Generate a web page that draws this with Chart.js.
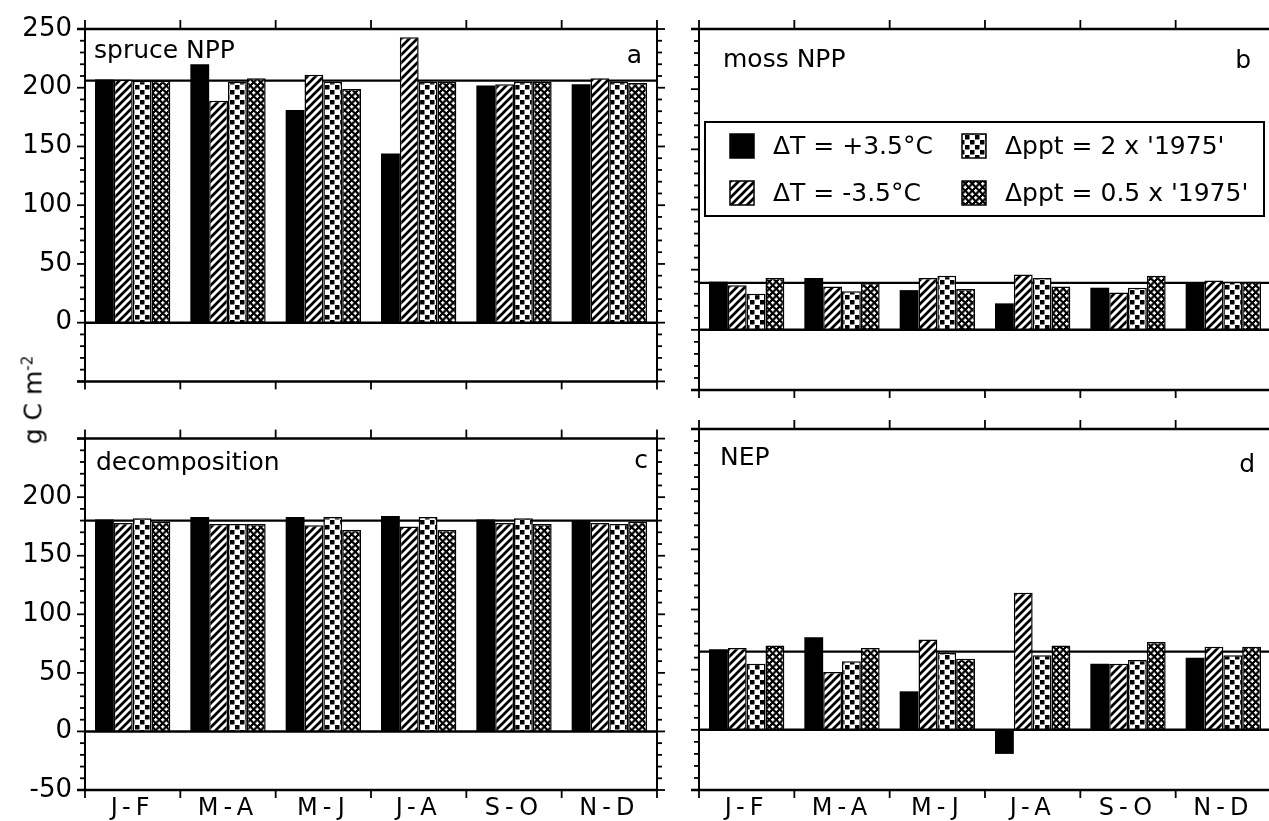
<!DOCTYPE html>
<html>
<head>
<meta charset="utf-8">
<script src="https://cdn.jsdelivr.net/npm/chart.js@4.4.0/dist/chart.umd.min.js"></script>
<style>
  html, body { margin: 0; padding: 0; background: #fff; overflow: hidden; }
  #wrap { position: relative; width: 1269px; height: 821px; overflow: hidden; }
  #wrap canvas { position: absolute; }
  #ytitle {
    position: absolute; left: 33px; top: 400px;
    transform: translate(-50%, -50%) rotate(-90deg);
    font: 25px "DejaVu Sans"; line-height: 1; white-space: nowrap; color: #000;
  }
  #ytitle sup { font-size: 15px; vertical-align: 9px; }
</style>
</head>
<body>
<div id="wrap">
  <canvas id="panelA" width="680" height="410" style="left:0;top:0;width:680px;height:410px"></canvas>
  <canvas id="panelB" width="600" height="410" style="left:680px;top:0;width:600px;height:410px"></canvas>
  <canvas id="panelC" width="680" height="411" style="left:0;top:410px;width:680px;height:411px"></canvas>
  <canvas id="panelD" width="600" height="411" style="left:680px;top:410px;width:600px;height:411px"></canvas>
  <div id="ytitle">g C m<sup>-2</sup></div>
</div>
<script>
// two-month periods
const periods = ['J-F', 'M-A', 'M-J', 'J-A', 'S-O', 'N-D'];
const scenarios = ['ΔT = +3.5°C', 'ΔT = -3.5°C', "Δppt = 2 x '1975'", "Δppt = 0.5 x '1975'"];

// y tick labels shown on the left panels
const yLabelsTop = [0, 50, 100, 150, 200, 250];
const yLabelsBottom = [-50, 0, 50, 100, 150, 200];

// a: spruce NPP
const spruceWarm = [207, 220, 181, 144, 202, 203];
const spruceCool = [207, 189, 211, 243, 203, 208];
const spruceWet = [206, 205, 205, 205, 205, 205];
const spruceDry = [206, 208, 199, 205, 205, 204];
const spruceControl = 206;

// b: moss NPP
const mossWarm = [40, 43, 33, 22, 35, 39];
const mossCool = [37, 36, 43, 46, 31, 41];
const mossWet = [30, 32, 45, 43, 35, 40];
const mossDry = [43, 39, 34, 36, 45, 40];
const mossControl = 39;

// c: decomposition
const decompWarm = [181, 183, 183, 184, 181, 180];
const decompCool = [178, 177, 176, 175, 178, 178];
const decompWet = [182, 177, 183, 183, 182, 177];
const decompDry = [179, 177, 172, 172, 177, 179];
const decompControl = 180;

// d: NEP
const nepWarm = [67, 77, 32, -20, 55, 60];
const nepCool = [68, 48, 75, 114, 55, 69];
const nepWet = [55, 57, 64, 62, 58, 62];
const nepDry = [70, 68, 59, 70, 73, 69];
const nepControl = 65;

const FONT = '"DejaVu Sans", Verdana, sans-serif';

function makePattern(kind) {
  const c = document.createElement('canvas');
  const g = c.getContext('2d');
  if (kind === 'hatch') {
    c.width = c.height = 8;
    g.fillStyle = '#fff'; g.fillRect(0, 0, 8, 8);
    g.strokeStyle = '#000'; g.lineWidth = 2.7;
    g.beginPath();
    g.moveTo(-1, 9); g.lineTo(9, -1);
    g.moveTo(-1, 1); g.lineTo(1, -1);
    g.moveTo(7, 9); g.lineTo(9, 7);
    g.stroke();
  } else if (kind === 'dots') {
    c.width = 10; c.height = 10;
    g.fillStyle = '#fff'; g.fillRect(0, 0, 10, 10);
    g.fillStyle = '#000';
    g.fillRect(0, 0, 4.5, 4.5);
    g.fillRect(5, 5, 4.5, 4.5);
  } else {
    c.width = c.height = 7;
    g.fillStyle = '#000'; g.fillRect(0, 0, 7, 7);
    g.fillStyle = '#fff';
    [[1.75, 1.75], [5.25, 5.25]].forEach(([cx, cy]) => {
      g.fillRect(cx - 1.7, cy - 0.7, 3.4, 1.4);
      g.fillRect(cx - 0.7, cy - 1.7, 1.4, 3.4);
    });
  }
  return g.createPattern(c, 'repeat');
}

const fills = ['#000', makePattern('hatch'), makePattern('dots'), makePattern('cross')];

function line(ctx, x1, y1, x2, y2) {
  ctx.beginPath(); ctx.moveTo(x1, y1); ctx.lineTo(x2, y2); ctx.stroke();
}

const panelDecor = {
  id: 'panelDecor',
  beforeDraw(chart) {
    // wide spacing for the period labels only
    chart.ctx.letterSpacing = '5px';
  },
  beforeDatasetsDraw(chart, args, opts) {
    const ctx = chart.ctx;
    ctx.letterSpacing = '0px';
    const { left, right } = chart.chartArea;
    const yc = chart.scales.y.getPixelForValue(opts.control);
    ctx.save();
    ctx.strokeStyle = '#000'; ctx.lineWidth = 2.3;
    line(ctx, left, yc, right, yc);
    ctx.restore();
  },
  afterDatasetsDraw(chart, args, opts) {
    const ctx = chart.ctx;
    const { left, right, top, bottom } = chart.chartArea;
    const xs = chart.scales.x, ys = chart.scales.y;
    ctx.save();
    ctx.strokeStyle = '#000';
    ctx.fillStyle = '#000';

    // zero line
    ctx.lineWidth = 2.5;
    const y0 = ys.getPixelForValue(0);
    line(ctx, left, y0, right, y0);

    // frame
    line(ctx, left - 8, top, right + 1, top);
    line(ctx, left - 8, bottom, right + 1, bottom);
    ctx.lineWidth = 2;
    line(ctx, left, top, left, bottom);
    line(ctx, right, top, right, bottom);

    // y ticks, every 10 with longer ones every 50
    for (let v = ys.min; v <= ys.max; v += 10) {
      const py = ys.getPixelForValue(v);
      const len = v % 50 === 0 ? 8 : 5;
      ctx.lineWidth = 1.8;
      line(ctx, left - len, py, left, py);
      line(ctx, right, py, right + len, py);
    }

    // category boundary ticks, top and bottom
    const step = xs.getPixelForValue(1) - xs.getPixelForValue(0);
    const first = xs.getPixelForValue(0) - step / 2;
    ctx.lineWidth = 1.8;
    for (let i = 0; i <= periods.length; i++) {
      const px = first + i * step;
      line(ctx, px, top - 9, px, top);
      line(ctx, px, bottom, px, bottom + 8);
    }

    // panel title and letter
    ctx.font = '25px ' + FONT;
    ctx.textBaseline = 'alphabetic';
    ctx.textAlign = 'left';
    ctx.fillText(opts.title, left + opts.titleDx, top + opts.titleDy);
    ctx.textAlign = 'right';
    ctx.fillText(opts.letter, right - opts.letterDx, top + opts.letterDy);

    // legend
    if (opts.legend) {
      const L = opts.legend;
      ctx.lineWidth = 2;
      ctx.strokeRect(L.x, L.y, L.w, L.h);
      ctx.textAlign = 'left';
      ctx.textBaseline = 'middle';
      chart.data.datasets.forEach((ds, i) => {
        const col = Math.floor(i / 2), row = i % 2;
        const sx = L.x + L.colX[col], sy = L.y + L.rowY[row];
        ctx.fillStyle = ds.backgroundColor;
        ctx.fillRect(sx, sy - 12, 24, 24);
        ctx.lineWidth = 1.5;
        ctx.strokeRect(sx, sy - 12, 24, 24);
        ctx.fillStyle = '#000';
        ctx.fillText(ds.label, sx + 43, sy + 1);
      });
    }
    ctx.restore();
  }
};

function makePanel(id, series, cfg) {
  return new Chart(document.getElementById(id), {
    type: 'bar',
    data: {
      labels: periods,
      datasets: series.map((vals, i) => ({
        label: scenarios[i],
        data: vals,
        backgroundColor: fills[i],
        borderColor: '#000',
        borderWidth: i === 0 ? 0 : 1.5,
        categoryPercentage: 0.79,
        barPercentage: 1.0
      }))
    },
    options: {
      responsive: false,
      animation: false,
      events: [],
      layout: { padding: { top: cfg.padTop, right: cfg.padRight, left: 0, bottom: 0 } },
      plugins: {
        legend: { display: false },
        tooltip: { enabled: false },
        panelDecor: {
          control: cfg.control,
          title: cfg.title, titleDx: cfg.titleDx, titleDy: cfg.titleDy,
          letter: cfg.letter, letterDx: cfg.letterDx, letterDy: cfg.letterDy,
          legend: cfg.legend || null
        }
      },
      scales: {
        x: {
          grid: { display: false, drawTicks: false, tickLength: 0 },
          border: { display: false },
          ticks: {
            display: cfg.showX, autoSkip: false, maxRotation: 0, padding: 4,
            color: '#000', font: { family: FONT, size: 24 }
          },
          afterFit(s) { s.height = cfg.xHeight; }
        },
        y: {
          min: -50, max: 250,
          grid: { display: false, drawTicks: false, tickLength: 0 },
          border: { display: false },
          ticks: {
            z: 1,
            display: !!cfg.yLabels, stepSize: 50, padding: 13,
            color: '#000', font: { family: FONT, size: 26 },
            callback: v => (cfg.yLabels && cfg.yLabels.includes(v)) ? String(v) : ''
          },
          afterFit(s) { s.width = cfg.yWidth; }
        }
      }
    },
    plugins: [panelDecor]
  });
}

makePanel('panelA', [spruceWarm, spruceCool, spruceWet, spruceDry], {
  padTop: 29, padRight: 23, xHeight: 20, showX: false, yWidth: 85, yLabels: yLabelsTop,
  control: spruceControl, title: 'spruce NPP', titleDx: 9, titleDy: 29,
  letter: 'a', letterDx: 15, letterDy: 34
});
makePanel('panelB', [mossWarm, mossCool, mossWet, mossDry], {
  padTop: 29, padRight: 9, xHeight: 20, showX: false, yWidth: 19, yLabels: null,
  control: mossControl, title: 'moss NPP', titleDx: 24, titleDy: 38,
  letter: 'b', letterDx: 20, letterDy: 39,
  legend: { x: 25, y: 122, w: 559, h: 94, colX: [25, 257], rowY: [24, 71] }
});
makePanel('panelC', [decompWarm, decompCool, decompWet, decompDry], {
  padTop: 19, padRight: 23, xHeight: 31, showX: true, yWidth: 85, yLabels: yLabelsBottom,
  control: decompControl, title: 'decomposition', titleDx: 11, titleDy: 31,
  letter: 'c', letterDx: 9, letterDy: 29
});
makePanel('panelD', [nepWarm, nepCool, nepWet, nepDry], {
  padTop: 19, padRight: 9, xHeight: 31, showX: true, yWidth: 19, yLabels: null,
  control: nepControl, title: 'NEP', titleDx: 21, titleDy: 36,
  letter: 'd', letterDx: 16, letterDy: 43
});
</script>
</body>
</html>
